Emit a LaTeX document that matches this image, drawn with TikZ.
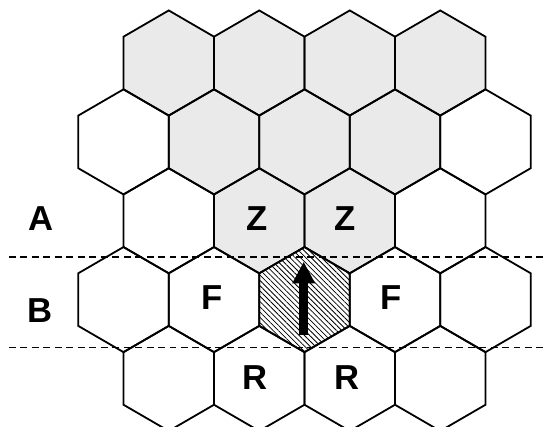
\documentclass[tikz,border=0pt]{standalone}
\usepackage{fontspec}
\setmainfont{Liberation Sans}
\usetikzlibrary{patterns.meta,arrows.meta}
\definecolor{stone}{RGB}{234,234,234}
\begin{document}
\begin{tikzpicture}[x=0.75pt,y=-0.75pt,
  hexline/.style={draw=black,line width=1.35pt,line join=miter},
  stonefill/.style={fill=stone},
  hatchfill/.style={pattern={Lines[angle=-45,distance=2.8pt,line width=0.6pt]},pattern color=black},
  rowsep/.style={draw=black,line width=1.2pt,dash pattern=on 5.2pt off 3.4pt},
  lbl/.style={font=\fontsize{26}{30}\selectfont\bfseries,inner sep=0pt},
  pics/hexcell/.style={code={\path[pic actions] (0,-52.55) -- (45.25,-26.3) -- (45.25,26.3) -- (0,52.55) -- (-45.25,26.3) -- (-45.25,-26.3) -- cycle;}}]
\useasboundingbox (0,0) rectangle (548,427);
\clip (0,0) rectangle (548,427);
% fills
\foreach \x in {168.75,259.25,349.75,440.25} \pic[stonefill] at (\x,63) {hexcell};
\foreach \x in {214,304.5,395} \pic[stonefill] at (\x,141.9) {hexcell};
\foreach \x in {259.25,349.75} \pic[stonefill] at (\x,220.75) {hexcell};
\path[hatchfill] (304.5,247.05) -- (349.75,273.3) -- (349.75,325.9) -- (304.5,352.15) -- (259.25,325.9) -- (259.25,273.3) -- cycle;
% outlines
\foreach \x in {168.75,259.25,349.75,440.25} {
  \pic[hexline] at (\x,63) {hexcell};
  \pic[hexline] at (\x,220.75) {hexcell};
  \pic[hexline] at (\x,378.45) {hexcell};
}
\foreach \x in {123.5,214,304.5,395,485.5} {
  \pic[hexline] at (\x,141.9) {hexcell};
  \pic[hexline] at (\x,299.6) {hexcell};
}
% row separators
\coordinate (s1a) at (9,257); \coordinate (s1b) at (548,257);
\coordinate (s2a) at (9,347.5); \coordinate (s2b) at (548,347.5);
\draw[rowsep] (s1a) -- (s1b);
\draw[rowsep] (s2a) -- (s2b);
% arrow
\coordinate (arrtail) at (303.7,335);
\coordinate (arrtip) at (303.7,261.7);
\draw[line width=6.5pt,-{Triangle[width=16pt,length=16.2pt]}] (arrtail) -- (arrtip);
% labels
\node[lbl] (la) at (40.8,219) {A};
\node[lbl] (lb) at (40,310.8) {B};
\node[lbl] (z1) at (257.5,219) {Z};
\node[lbl] (z2) at (345.5,219) {Z};
\node[lbl] (f1) at (212.5,298) {F};
\node[lbl] (f2) at (391,298) {F};
\node[lbl] (r1) at (255,377.5) {R};
\node[lbl] (r2) at (346.7,377.5) {R};
\end{tikzpicture}
\end{document}
